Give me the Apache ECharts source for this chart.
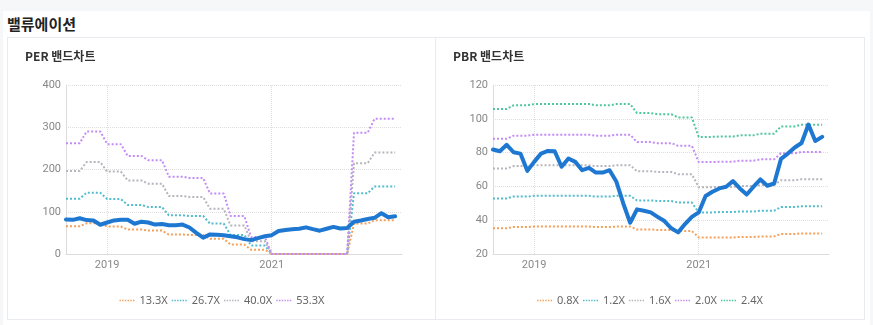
<!DOCTYPE html>
<html>
<head>
<meta charset="utf-8">
<script src="https://cdn.jsdelivr.net/npm/echarts@6/dist/echarts.min.js"></script>
<style>
  html, body { margin: 0; padding: 0; width: 873px; height: 325px; background: #f6f7f9; overflow: hidden; }
  #panel { position: absolute; left: 3px; top: 11px; width: 867px; height: 314px; background: #ffffff; }
  #title { position: absolute; left: 7px; top: 14px; font: bold 15px "Noto Sans CJK KR", sans-serif; color: #222; line-height: 20px; }
  .card { position: absolute; top: 37px; height: 281px; border: 1px solid #e9ebf0; background: #fff; }
  #card1 { left: 7px; width: 428px; }
  #card2 { left: 435px; width: 428px; }
  .chart { position: absolute; left: 0; top: 0; width: 428px; height: 281px; }
</style>
</head>
<body>
<div id="panel"></div>
<div id="title">밸류에이션</div>
<div class="card" id="card1"><div class="chart" id="perChart"></div></div>
<div class="card" id="card2"><div class="chart" id="pbrChart"></div></div>
<script>
// ---- data ----
const months = ['2018-07','2018-08','2018-09','2018-10','2018-11','2018-12',
  '2019-01','2019-02','2019-03','2019-04','2019-05','2019-06','2019-07','2019-08','2019-09','2019-10','2019-11','2019-12',
  '2020-01','2020-02','2020-03','2020-04','2020-05','2020-06','2020-07','2020-08','2020-09','2020-10','2020-11','2020-12',
  '2021-01','2021-02','2021-03','2021-04','2021-05','2021-06','2021-07','2021-08','2021-09','2021-10','2021-11','2021-12',
  '2022-01','2022-02','2022-03','2022-04','2022-05','2022-06','2022-07','2022-08'];
const xTickLabels = ['2019-01', '2021-01'];
const perTicks = [0, 100, 200, 300, 400];
const pbrTicks = [20, 40, 60, 80, 100, 120];

const price = [81.8,80.8,84.6,80.2,79.4,69.2,74.5,79.4,81.0,80.8,71.6,76.5,74.5,69.6,71.0,68.2,68.2,69.6,
  62.7,49.9,38.5,46.4,45.6,44.6,42.0,39.5,35.2,32.8,37.7,42.0,44.6,54.3,56.8,58.8,59.8,63.1,58.8,55.2,59.8,64.1,60.4,61.7,
  76.3,79.4,83.0,85.7,96.6,86.9,89.3,null];

const perNames = ['13.3X', '26.7X', '40.0X', '53.3X'];
const per133 = [65.5,65.5,65.5,72.5,72.5,72.5,65,65,65,58,58,58,55.5,55.5,55.5,46,46,46,45,45,45,36,36,36,22.5,22.5,22.5,10,10,10,
  0,0,0,0,0,0,0,0,0,0,0,0,72,72,72,80,80,80,80,null];
const per267 = [131,131,131,145,145,145,130,130,130,116,116,116,111,111,111,91.5,91.5,91.5,90,90,90,72,72,72,45,45,45,20,20,20,
  0,0,0,0,0,0,0,0,0,0,0,0,143.5,143.5,143.5,160,160,160,160,null];
const per400 = [196.5,196.5,196.5,217.5,217.5,217.5,195,195,195,174,174,174,166.5,166.5,166.5,137,137,137,135,135,135,107,107,107,67.5,67.5,67.5,30,30,30,
  0,0,0,0,0,0,0,0,0,0,0,0,215,215,215,240,240,240,240,null];
const per533 = [262,262,262,290,290,290,260,260,260,232,232,232,222,222,222,183,183,183,180,180,180,143,143,143,90,90,90,40,40,40,
  0,0,0,0,0,0,0,0,0,0,0,0,287,287,287,320,320,320,320,null];

const pbrNames = ['0.8X', '1.2X', '1.6X', '2.0X', '2.4X'];
const pbr08 = [35.3,35.3,35.3,36.0,36.0,36.0,36.2,36.2,36.2,36.2,36.2,36.2,36.2,36.2,36.2,36.0,36.0,36.0,36.2,36.2,36.2,34.5,34.5,34.5,34.2,34.2,34.2,33.6,33.6,33.6,
  29.8,29.8,29.8,29.8,29.8,29.8,30.1,30.1,30.1,30.4,30.4,30.4,31.8,31.8,31.8,32.2,32.2,32.2,32.2,null];
const pbr12 = [52.9,52.9,52.9,54.0,54.0,54.0,54.4,54.4,54.4,54.4,54.4,54.4,54.4,54.4,54.4,54.0,54.0,54.0,54.4,54.4,54.4,51.7,51.7,51.7,51.4,51.4,51.4,50.4,50.4,50.4,
  44.6,44.6,44.6,44.8,44.8,44.8,45.1,45.1,45.1,45.6,45.6,45.6,47.8,47.8,47.8,48.2,48.2,48.2,48.2,null];
const pbr16 = [70.6,70.6,70.6,72.0,72.0,72.0,72.5,72.5,72.5,72.5,72.5,72.5,72.5,72.5,72.5,72.0,72.0,72.0,72.5,72.5,72.5,69.0,69.0,69.0,68.5,68.5,68.5,67.2,67.2,67.2,
  59.5,59.5,59.5,59.7,59.7,59.7,60.2,60.2,60.2,60.8,60.8,60.8,63.7,63.7,63.7,64.3,64.3,64.3,64.3,null];
const pbr20 = [88.2,88.2,88.2,90.0,90.0,90.0,90.6,90.6,90.6,90.6,90.6,90.6,90.6,90.6,90.6,90.0,90.0,90.0,90.6,90.6,90.6,86.2,86.2,86.2,85.6,85.6,85.6,84.0,84.0,84.0,
  74.4,74.4,74.4,74.6,74.6,74.6,75.2,75.2,75.2,76.0,76.0,76.0,79.6,79.6,79.6,80.4,80.4,80.4,80.4,null];
const pbr24 = [105.8,105.8,105.8,108.0,108.0,108.0,108.7,108.7,108.7,108.7,108.7,108.7,108.7,108.7,108.7,108.0,108.0,108.0,108.7,108.7,108.7,103.4,103.4,103.4,102.7,102.7,102.7,100.8,100.8,100.8,
  89.3,89.3,89.3,89.5,89.5,89.5,90.2,90.2,90.2,91.2,91.2,91.2,95.5,95.5,95.5,96.5,96.5,96.5,96.5,null];

// ---- styles ----
const bandColors = ['#f5a05a', '#52bccb', '#b5b5bd', '#c28cf7', '#4ec79a'];
const blue = '#1e78d2';
const dottedIcon = 'path://M0,0h1.5v1.5h-1.5z M2.8,0h1.5v1.5h-1.5z M5.6,0h1.5v1.5h-1.5z M8.4,0h1.5v1.5h-1.5z M11.2,0h1.5v1.5h-1.5z M14,0h1.5v1.5h-1.5z';
const isYearTick = (i, v) => xTickLabels.indexOf(v) >= 0;

function buildOption(title, names, bands, ticks, gridLeft) {
  const series = bands.map((d, i) => ({
    name: names[i], type: 'line', data: d, symbol: 'none', showSymbol: false,
    lineStyle: { type: 'dotted', width: 2, color: bandColors[i] },
    itemStyle: { color: bandColors[i] }, z: 2, animation: false
  }));
  series.push({
    name: 'price', type: 'line', data: price, symbol: 'none', showSymbol: false,
    lineStyle: { width: 4, color: blue, join: 'round', cap: 'round' },
    itemStyle: { color: blue }, z: 5, animation: false
  });
  return {
    animation: false,
    title: { text: title, left: 17, top: 12, padding: 0, textStyle: { fontFamily: 'Noto Sans CJK KR', fontSize: 12, fontWeight: 'bold', color: '#333' } },
    grid: { left: gridLeft, top: 47, width: 336, height: 169 },
    legend: {
      data: names.map(n => ({ name: n, icon: dottedIcon })),
      top: 252, left: 'center', itemWidth: 15, itemHeight: 2, itemGap: 4,
      textStyle: { fontFamily: 'Noto Sans', fontSize: 11, color: '#666' }, selectedMode: false
    },
    xAxis: {
      type: 'category', data: months, boundaryGap: false,
      axisLine: { lineStyle: { color: '#dcdcdc' } },
      axisTick: { show: false },
      axisLabel: { interval: isYearTick, formatter: v => v.slice(0, 4), color: '#888', fontFamily: 'Roboto', fontSize: 11, margin: 6 },
      splitLine: { show: true, interval: isYearTick, lineStyle: { type: 'dotted', color: '#dedede' } }
    },
    yAxis: {
      type: 'value', min: ticks[0], max: ticks[ticks.length - 1], interval: ticks[1] - ticks[0],
      axisLine: { show: true, lineStyle: { color: '#dcdcdc' } },
      axisTick: { show: false },
      axisLabel: { color: '#888', fontFamily: 'Roboto', fontSize: 11, margin: 5 },
      splitLine: { lineStyle: { type: 'dotted', color: '#dedede' } }
    },
    series: series
  };
}

const perChart = echarts.init(document.getElementById('perChart'), null, { renderer: 'canvas' });
perChart.setOption(buildOption('PER 밴드차트', perNames, [per133, per267, per400, per533], perTicks, 58));
const pbrChart = echarts.init(document.getElementById('pbrChart'), null, { renderer: 'canvas' });
pbrChart.setOption(buildOption('PBR 밴드차트', pbrNames, [pbr08, pbr12, pbr16, pbr20, pbr24], pbrTicks, 57));
</script>
</body>
</html>
